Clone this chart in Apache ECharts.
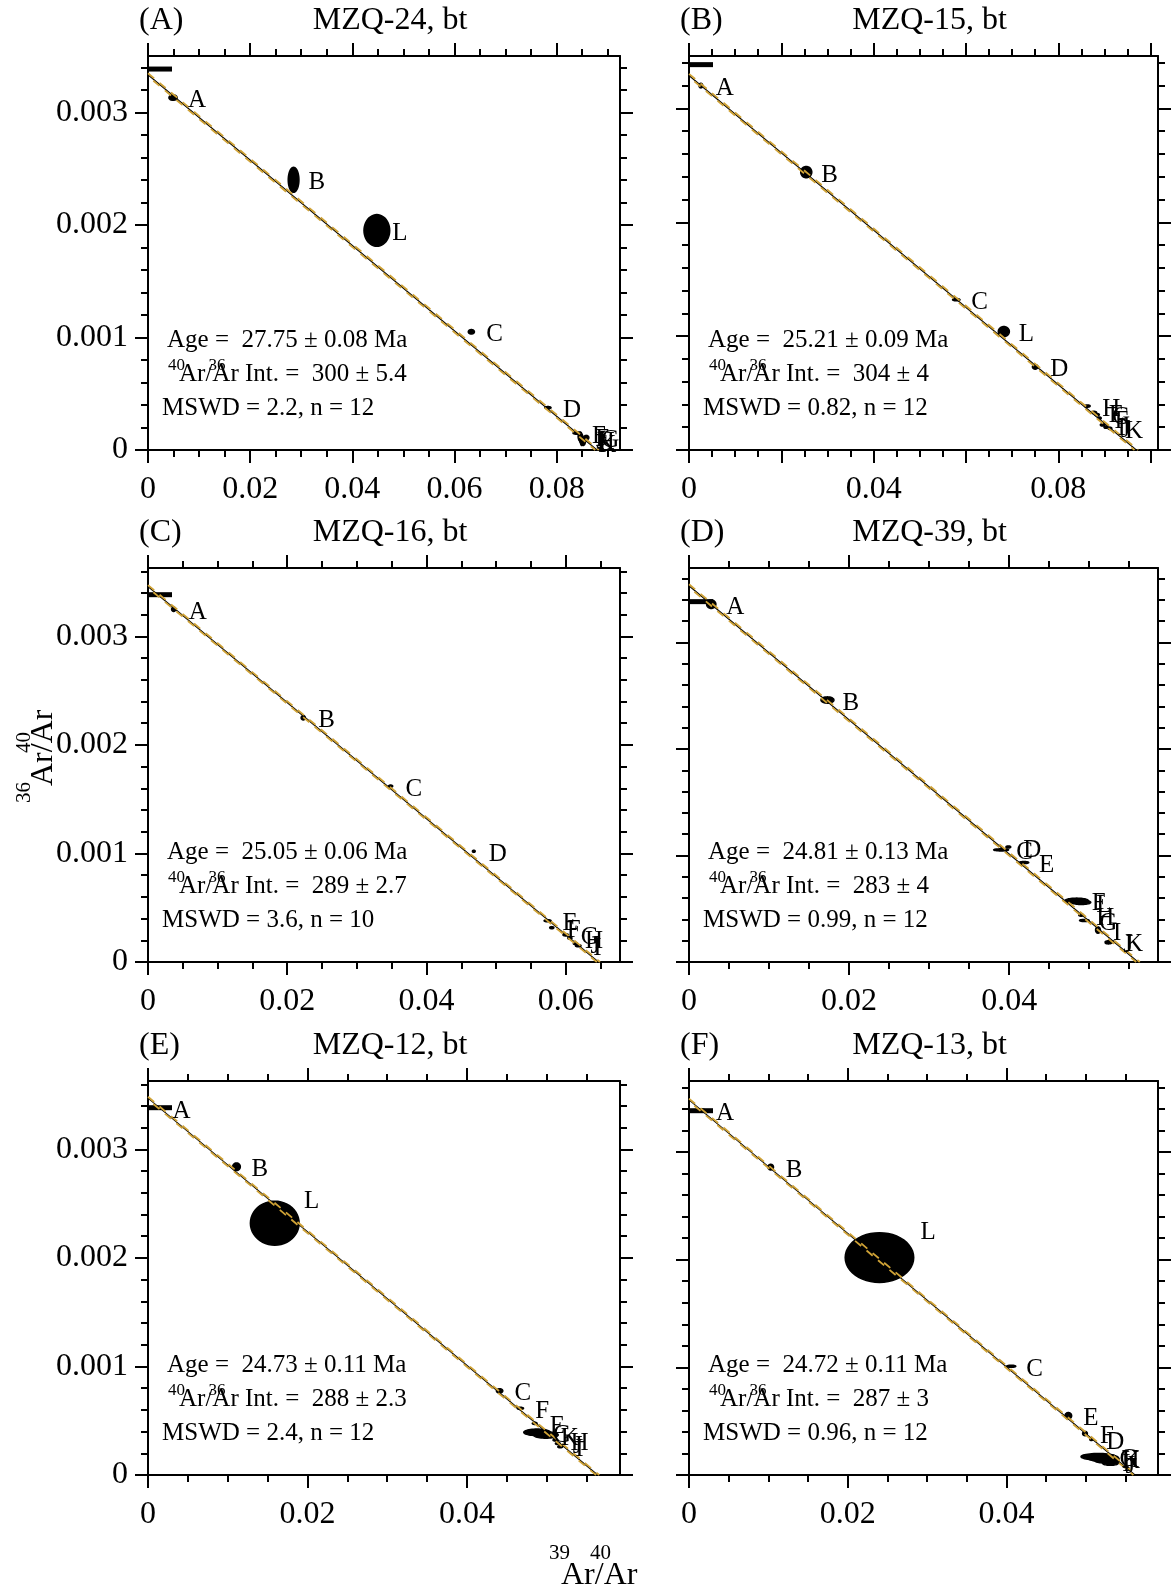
<!DOCTYPE html>
<html>
<head>
<meta charset="utf-8">
<script src="https://cdn.jsdelivr.net/npm/echarts@6/dist/echarts.min.js"></script>
<style>
html,body{margin:0;padding:0;background:#fff;}
#chart{width:1176px;height:1591px;}
</style>
</head>
<body>
<div id="chart"></div>
<script>
// ---------------- DATA ----------------
const panelTags = ['(A)', '(B)', '(C)', '(D)', '(E)', '(F)'];
const sampleTitles = ['MZQ-24, bt', 'MZQ-15, bt', 'MZQ-16, bt', 'MZQ-39, bt', 'MZQ-12, bt', 'MZQ-13, bt'];
const isochronAges = ['27.75 ± 0.08', '25.21 ± 0.09', '25.05 ± 0.06', '24.81 ± 0.13', '24.73 ± 0.11', '24.72 ± 0.11'];
const initialRatios = [300, 304, 289, 283, 288, 287];
const initialRatioErrors = ['5.4', '4', '2.7', '4', '2.3', '3'];
const mswdValues = ['2.2', '0.82', '3.6', '0.99', '2.4', '0.96'];
const stepCounts = [12, 12, 10, 12, 12, 12];

// axis ranges
const xMaxValues = [0.0924, 0.1016, 0.0678, 0.0586, 0.0592, 0.0591];
const yMaxValues = [0.0035, 0.00346, 0.00363, 0.0037, 0.00363, 0.00366];
const xMajorStep = 0.02, xMinorStep = 0.005;
const yMajorStep = 0.001, yMinorStep = 0.0002;
const xTickLabels = [
  [0, 0.02, 0.04, 0.06, 0.08],
  [0, 0.04, 0.08],
  [0, 0.02, 0.04, 0.06],
  [0, 0.02, 0.04],
  [0, 0.02, 0.04],
  [0, 0.02, 0.04]
];
const yTickLabels = [0, 0.001, 0.002, 0.003];

// isochron x-intercepts (39Ar/40Ar at 36Ar/40Ar = 0)
const xIntercepts = [0.0879, 0.0969, 0.0647, 0.0561, 0.0564, 0.0562];
// relative half-width of the error envelope
const envelopeRel = [0.004, 0.004, 0.0035, 0.004, 0.0035, 0.0035];
// atmospheric 36Ar/40Ar
const ATM_36_40 = 1 / 295.5;

// steps: [label, 39Ar/40Ar, 36Ar/40Ar, x error, y error]
const stepsA = [
  ['A', 0.0049, 0.00313, 0.0008, 0.000024],
  ['B', 0.0285, 0.00240, 0.00105, 0.000111],
  ['L', 0.0448, 0.00195, 0.00252, 0.000141],
  ['C', 0.0633, 0.00105, 0.0006, 0.00002],
  ['D', 0.0783, 0.000376, 0.0006, 0.00001],
  ['E', 0.0840, 0.00015, 0.0008, 0.00001],
  ['F', 0.0846, 0.00012, 0.0004, 0.00004],
  ['H', 0.0849, 0.00009, 0.0003, 0.00005],
  ['J', 0.0848, 0.00010, 0.0004, 0.00003],
  ['I', 0.0851, 0.00008, 0.0006, 0.00002],
  ['K', 0.0852, 0.00007, 0.0004, 0.00003],
  ['G', 0.0858, 0.00011, 0.0005, 0.00002]
];
const stepsB = [
  ['A', 0.00257, 0.00320, 0.0004, 0.00002],
  ['B', 0.0254, 0.00244, 0.0012, 0.00005],
  ['C', 0.0579, 0.00132, 0.0008, 0.00001],
  ['L', 0.0682, 0.00104, 0.0012, 0.000044],
  ['D', 0.0750, 0.00073, 0.0006, 0.00002],
  ['H', 0.0863, 0.000386, 0.0006, 0.00001],
  ['E', 0.0877, 0.00033, 0.0006, 0.00001],
  ['G', 0.0884, 0.00031, 0.0005, 0.00001],
  ['F', 0.0889, 0.00028, 0.0004, 0.00001],
  ['I', 0.0896, 0.00022, 0.0005, 0.00001],
  ['J', 0.0903, 0.00020, 0.0004, 0.00001],
  ['K', 0.0912, 0.00019, 0.0004, 0.00001]
];
const stepsC = [
  ['A', 0.00369, 0.00325, 0.0003, 0.00002],
  ['B', 0.0223, 0.00225, 0.0003, 0.00002],
  ['C', 0.03485, 0.00162, 0.0003, 0.00001],
  ['D', 0.0468, 0.00102, 0.0002, 0.00001],
  ['E', 0.0574, 0.00038, 0.0005, 0.00001],
  ['F', 0.0580, 0.000316, 0.0003, 0.00001],
  ['G', 0.0600, 0.00025, 0.0004, 0.00001],
  ['H', 0.0606, 0.00022, 0.0003, 0.00001],
  ['J', 0.0614, 0.00017, 0.0003, 0.00001],
  ['I', 0.0618, 0.00015, 0.0004, 0.00001]
];
const stepsD = [
  ['A', 0.00278, 0.00336, 0.00058, 0.00004],
  ['B', 0.0173, 0.00246, 0.00081, 0.00003],
  ['C', 0.0390, 0.001053, 0.00093, 0.00001],
  ['D', 0.0399, 0.00108, 0.0003, 0.00001],
  ['E', 0.04185, 0.000934, 0.0006, 0.00001],
  ['F', 0.04844, 0.000576, 0.00146, 0.000024],
  ['L', 0.0490, 0.00056, 0.0012, 0.00002],
  ['H', 0.0490, 0.00044, 0.0003, 0.00001],
  ['G', 0.0494, 0.00039, 0.0006, 0.00001],
  ['I', 0.0511, 0.00030, 0.0003, 0.00003],
  ['J', 0.0524, 0.00018, 0.0004, 0.00001],
  ['K', 0.0526, 0.00019, 0.0006, 0.00001]
];
const stepsE = [
  ['A', 0.0012, 0.00338, 0.0005, 0.00001],
  ['B', 0.0111, 0.00284, 0.00048, 0.000035],
  ['L', 0.0159, 0.00232, 0.00306, 0.000203],
  ['C', 0.0441, 0.000775, 0.0004, 0.00002],
  ['F', 0.0467, 0.000614, 0.0004, 0.00001],
  ['E', 0.0485, 0.000476, 0.0003, 0.00001],
  ['G', 0.0488, 0.000393, 0.00167, 0.00003],
  ['K', 0.0499, 0.000369, 0.00155, 0.00003],
  ['H', 0.0511, 0.000322, 0.0003, 0.00001],
  ['J', 0.0514, 0.000290, 0.0003, 0.00001],
  ['I', 0.0517, 0.000260, 0.0003, 0.00001]
];
const stepsF = [
  ['A', 0.0015, 0.00339, 0.0005, 0.00001],
  ['B', 0.0103, 0.00286, 0.00035, 0.000026],
  ['L', 0.0240, 0.00202, 0.00432, 0.000231],
  ['C', 0.0406, 0.00101, 0.00058, 0.00001],
  ['E', 0.0478, 0.00055, 0.00042, 0.00003],
  ['F', 0.0499, 0.000385, 0.0003, 0.00002],
  ['D', 0.0507, 0.00033, 0.0002, 0.00001],
  ['G', 0.0516, 0.00017, 0.0022, 0.00003],
  ['H', 0.0521, 0.00016, 0.0020, 0.00003],
  ['K', 0.0524, 0.00015, 0.0018, 0.00003],
  ['I', 0.0527, 0.00013, 0.0015, 0.00002],
  ['J', 0.0531, 0.00011, 0.0010, 0.00002]
];
const panelSteps = [stepsA, stepsB, stepsC, stepsD, stepsE, stepsF];

// ---------------- LAYOUT / STYLE ----------------
const FONT = '"Liberation Serif", "Times New Roman", Times, serif';
const colLeft = [148, 689];
const colWidth = [472, 469];
const rowTop = [56, 568, 1081];
const plotHeight = 394;
const ENVELOPE_COLOR = '#CFA236';

const ctx = document.createElement('canvas').getContext('2d');
function textWidth(t, size) { ctx.font = size + 'px ' + FONT; return ctx.measureText(t).width; }
function fmt(v) { return String(Math.round(v * 1e6) / 1e6); }
function tickList(max, step) {
  const out = [];
  for (let k = 0; k * step <= max + 1e-12; k++) out.push(Math.round(k * step * 1e8) / 1e8);
  return out;
}
// text element positioned by its baseline
function baseText(x, baseline, text, size, align) {
  return {
    type: 'text', x: x, y: baseline - 0.34 * size, silent: true,
    style: { text: text, font: size + 'px ' + FONT, fill: '#000', align: align || 'left', verticalAlign: 'middle' }
  };
}

const chart = echarts.init(document.getElementById('chart'), null, { renderer: 'canvas' });

const grids = [], xAxes = [], yAxes = [], series = [], graphics = [];

function makeAxis(kind, i, position, major, showLabels) {
  const max = kind === 'x' ? xMaxValues[i] : yMaxValues[i];
  const step = kind === 'x' ? (major ? xMajorStep : xMinorStep) : (major ? yMajorStep : yMinorStep);
  const vals = tickList(max, step);
  const labelVals = kind === 'x' ? xTickLabels[i] : yTickLabels;
  return {
    type: 'value', gridIndex: i, position: position, min: 0, max: max, interval: step,
    axisLine: { show: major, onZero: false, lineStyle: { color: '#000', width: 2 } },
    axisTick: { show: true, inside: false, length: major ? 13 : 7, customValues: vals,
      lineStyle: { color: '#000', width: 2 } },
    axisLabel: showLabels ? {
      show: true, customValues: labelVals, margin: kind === 'x' ? 24 : 20,
      fontFamily: FONT, fontSize: 32, color: '#000',
      formatter: function (v) { return labelVals.some(function (l) { return Math.abs(l - v) < 1e-9; }) ? fmt(v) : ''; }
    } : { show: false },
    splitLine: { show: false },
    silent: true
  };
}

for (let i = 0; i < 6; i++) {
  const row = Math.floor(i / 2), col = i % 2;
  const L = colLeft[col], W = colWidth[col], T = rowTop[row], B = T + plotHeight;
  grids.push({ left: L, top: T, width: W, height: plotHeight });

  xAxes.push(makeAxis('x', i, 'bottom', true, true));
  xAxes.push(makeAxis('x', i, 'bottom', false, false));
  xAxes.push(makeAxis('x', i, 'top', true, false));
  xAxes.push(makeAxis('x', i, 'top', false, false));
  yAxes.push(makeAxis('y', i, 'left', true, col === 0));
  yAxes.push(makeAxis('y', i, 'left', false, false));
  yAxes.push(makeAxis('y', i, 'right', true, false));
  yAxes.push(makeAxis('y', i, 'right', false, false));

  const xi = 4 * i, yi = 4 * i;
  const steps = panelSteps[i];

  // atmospheric marker
  series.push({
    type: 'scatter', xAxisIndex: xi, yAxisIndex: yi, data: [[0, ATM_36_40]],
    symbol: 'rect', symbolSize: [24, 5], symbolOffset: [12, 0],
    itemStyle: { color: '#000', opacity: 1 }, silent: true, z: 2
  });

  // error ellipses
  series.push({
    type: 'custom', xAxisIndex: xi, yAxisIndex: yi, silent: true, z: 3,
    encode: { x: 0, y: 1 },
    data: steps.map(function (s) { return [s[1], s[2], s[3], s[4]]; }),
    renderItem: function (params, api) {
      const x = api.value(0), y = api.value(1), ex = api.value(2), ey = api.value(3);
      const pts = [];
      for (let k = 0; k < 48; k++) {
        const t = 2 * Math.PI * k / 48;
        pts.push(api.coord([x + ex * Math.cos(t), y + ey * Math.sin(t)]));
      }
      return { type: 'polygon', shape: { points: pts }, style: { fill: '#000', stroke: '#000', lineWidth: 1.5 } };
    }
  });

  // isochron
  const y0 = 1 / initialRatios[i];
  series.push({
    type: 'line', xAxisIndex: xi, yAxisIndex: yi, silent: true, z: 4,
    data: [[0, y0], [xIntercepts[i], 0]], symbol: 'none',
    lineStyle: { color: '#000', width: 1.2 }
  });
  // error envelope
  const e = envelopeRel[i];
  series.push({
    type: 'line', xAxisIndex: xi, yAxisIndex: yi, silent: true, z: 5,
    data: [[0, y0 * (1 + e)], [xIntercepts[i] * (1 + e), 0]], symbol: 'none',
    lineStyle: { color: ENVELOPE_COLOR, width: 1.8, type: [8, 7] }
  });
  series.push({
    type: 'line', xAxisIndex: xi, yAxisIndex: yi, silent: true, z: 5,
    data: [[0, y0 * (1 - e)], [xIntercepts[i] * (1 - e), 0]], symbol: 'none',
    lineStyle: { color: ENVELOPE_COLOR, width: 1.8, type: [8, 7], dashOffset: 8 }
  });

  // step labels
  series.push({
    type: 'custom', xAxisIndex: xi, yAxisIndex: yi, silent: true, z: 6,
    encode: { x: 0, y: 1 },
    data: steps.map(function (s) { return [s[1], s[2], s[3], s[4]]; }),
    renderItem: function (params, api) {
      const s = steps[params.dataIndex];
      const c = api.coord([s[1], s[2]]);
      const rx = Math.abs(api.coord([s[1] + s[3], s[2]])[0] - c[0]);
      const ry = Math.abs(api.coord([s[1], s[2] + s[4]])[1] - c[1]);
      const dx = Math.max(15, rx * 1.2);
      const dy = ry > 18 ? -ry : 3;
      return {
        type: 'text', x: c[0] + dx, y: c[1] + dy,
        style: { text: s[0], font: '25px ' + FONT, fill: '#000', align: 'left', verticalAlign: 'middle' }
      };
    }
  });

  // panel tag + title
  graphics.push(baseText(L - 9, T - 25, panelTags[i], 32, 'left'));
  graphics.push(baseText(L + W / 2 + 6, T - 25, sampleTitles[i], 32, 'center'));

  // statistics block
  graphics.push(baseText(L + 19, B - 101, 'Age =  ' + isochronAges[i] + ' Ma', 25));
  const x0 = L + 20;
  const xMain = x0 + 11;
  graphics.push(baseText(x0, B - 67 - 12, '40', 17));
  graphics.push(baseText(xMain, B - 67, 'Ar/Ar Int. =  ' + initialRatios[i] + ' ± ' + initialRatioErrors[i], 25));
  graphics.push(baseText(xMain + textWidth('Ar', 25) + 3, B - 67 - 12, '36', 17));
  graphics.push(baseText(L + 14, B - 33, 'MSWD = ' + mswdValues[i] + ', n = ' + stepCounts[i], 25));
}

// y-axis title (rotated)
graphics.push({
  type: 'group', x: 54, y: 786, rotation: Math.PI / 2, silent: true,
  children: [
    { type: 'text', x: 0, y: -0.34 * 32, style: { text: 'Ar/Ar', font: '32px ' + FONT, fill: '#000', align: 'left', verticalAlign: 'middle' } },
    { type: 'text', x: -17, y: -22 - 0.34 * 21, style: { text: '36', font: '21px ' + FONT, fill: '#000', align: 'left', verticalAlign: 'middle' } },
    { type: 'text', x: 33, y: -22 - 0.34 * 21, style: { text: '40', font: '21px ' + FONT, fill: '#000', align: 'left', verticalAlign: 'middle' } }
  ]
});
// x-axis title
graphics.push(baseText(561, 1586, 'Ar/Ar', 32));
graphics.push(baseText(549, 1561, '39', 21));
graphics.push(baseText(590, 1561, '40', 21));

chart.setOption({
  animation: false,
  backgroundColor: '#fff',
  grid: grids,
  xAxis: xAxes,
  yAxis: yAxes,
  series: series,
  graphic: { elements: graphics }
});
</script>
</body>
</html>
